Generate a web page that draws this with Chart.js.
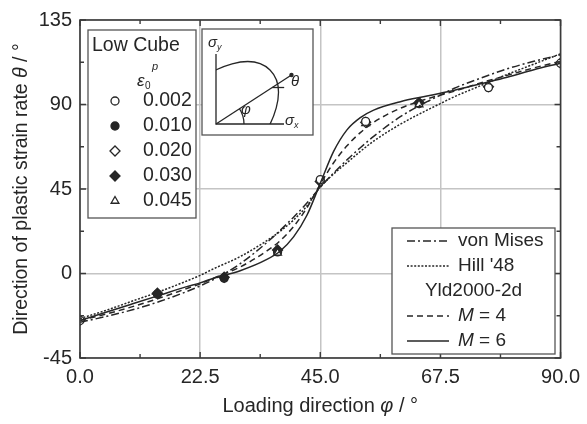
<!DOCTYPE html>
<html>
<head>
<meta charset="utf-8">
<script src="https://cdn.jsdelivr.net/npm/chart.js@4.4.1/dist/chart.umd.min.js"></script>
<style>
  html, body { margin: 0; padding: 0; background: #fff; }
  #wrap { width: 587px; height: 424px; }
</style>
</head>
<body>
<div id="wrap"><canvas id="c" width="587" height="424"></canvas></div>
<script>
// Loading direction (deg) where the model curves are sampled
const phi = [0, 5, 10, 15, 20, 22.5, 25, 30, 35, 37.5, 40, 42.5, 45, 47.5, 50, 52.5, 55, 60, 65, 67.5, 70, 75, 80, 85, 90];

// Direction of plastic strain rate (deg) predicted by each yield criterion
const vonMises = [-26, -22.8, -19.2, -14.8, -9.6, -6.6, -3.2, 5.2, 16.5, 23, 30, 37.5, 46, 53.5, 60.5, 67, 73, 83.5, 91.5, 95, 98.5, 104, 109, 113, 116.5];
const hill48   = [-24, -19.5, -14.5, -9.5, -4, -1, 2.5, 9, 17.5, 22.5, 28.5, 36, 46, 53, 59, 65, 70.5, 79.5, 87, 90.5, 94, 100, 106, 111.5, 117];
const yldM4    = [-25, -21.5, -17.5, -13, -8, -5.5, -2.5, 3.5, 12, 17.5, 25, 35, 47.5, 59, 68, 75, 80.5, 88, 93, 95, 97, 101.5, 105.5, 109.5, 113];
const yldM6    = [-25, -20.5, -16, -11.5, -7, -5, -2.5, 1.5, 7.5, 12, 19.5, 31, 48, 65, 76.5, 83, 87, 91.5, 94.5, 96, 97.5, 101, 104.5, 108.5, 112];

// Measured directions, Low Cube sample, per plastic work level
const strainLevels = ['0.002', '0.010', '0.020', '0.030', '0.045'];
const phi002 = [0, 45, 53.5, 76.5, 90];
const th002  = [-25, 50, 81, 99, 112];
const phi010 = [14.5, 27, 37, 63.5];
const th010  = [-11, -2.5, 11.5, 90.5];
const phi020 = [0, 45, 53.5, 76.5, 90];
const th020  = [-25, 49, 80.5, 99.5, 112];
const phi030 = [14.5, 27, 37, 63.5];
const th030  = [-10.5, -2, 12.5, 91];
const phi045 = [37, 53.5, 63.5];
const th045  = [11, 80, 90];

// Axis ticks
const xTicks = [0, 22.5, 45, 67.5, 90];
const yTicks = [-45, 0, 45, 90, 135];

const FONT = '"Liberation Sans", Arial, sans-serif';
const INK = '#262626';

const pts = (xs, ys) => xs.map((x, i) => ({ x, y: ys[i] }));

const lineDs = (label, ys, dash, w) => ({
  type: 'line', label, data: pts(phi, ys),
  borderColor: INK, borderWidth: w, borderDash: dash,
  pointRadius: 0, fill: false, cubicInterpolationMode: 'monotone'
});

const markerDs = (label, xs, ys, style, filled, r) => ({
  type: 'scatter', label, data: pts(xs, ys),
  pointStyle: style, pointRadius: r, borderWidth: 1.3,
  borderColor: INK, backgroundColor: filled ? INK : '#fff', showLine: false
});

const markerStyles = [
  ['circle', false, 4], ['circle', true, 4], ['rectRot', false, 5],
  ['rectRot', true, 5], ['triangle', false, 4.5]
];

const DASHDOT = [8, 3, 2, 3], DOTTED = [2, 1.6], DASHED = [6, 4];

const datasets = [
  lineDs('von Mises', vonMises, DASHDOT, 1.5),
  lineDs("Hill '48", hill48, DOTTED, 1.5),
  lineDs('M = 4', yldM4, DASHED, 1.5),
  lineDs('M = 6', yldM6, [], 1.5),
  markerDs(strainLevels[0], phi002, th002, 'circle', false, 4),
  markerDs(strainLevels[2], phi020, th020, 'rectRot', false, 5),
  markerDs(strainLevels[4], phi045, th045, 'triangle', false, 4.5),
  markerDs(strainLevels[1], phi010, th010, 'circle', true, 4),
  markerDs(strainLevels[3], phi030, th030, 'rectRot', true, 5)
];

function drawMarker(ctx, style, filled, r, x, y) {
  ctx.save();
  ctx.lineWidth = 1.3;
  ctx.strokeStyle = INK;
  ctx.fillStyle = filled ? INK : '#fff';
  Chart.helpers.drawPoint(ctx, { pointStyle: style, radius: r, rotation: 0, borderWidth: 1.3 }, x, y);
  ctx.restore();
}

function sigma(ctx, x, y, sub) {
  ctx.font = 'italic 15px ' + FONT;
  ctx.fillText('σ', x, y);
  const w = ctx.measureText('σ').width;
  ctx.font = 'italic 9px ' + FONT;
  ctx.fillText(sub, x + w, y + 4);
}

// Writes a run of [text, italic] pieces centred on (cx, cy)
function mixedText(ctx, parts, cx, cy, size) {
  const fontOf = it => (it ? 'italic ' : '') + size + 'px ' + FONT;
  let total = 0;
  parts.forEach(([t, it]) => { ctx.font = fontOf(it); total += ctx.measureText(t).width; });
  let x = cx - total / 2;
  ctx.textAlign = 'left';
  parts.forEach(([t, it]) => {
    ctx.font = fontOf(it);
    ctx.fillText(t, x, cy);
    x += ctx.measureText(t).width;
  });
}

const decor = {
  id: 'decor',
  afterDraw(chart) {
    const { ctx, chartArea: a, scales: { x, y } } = chart;
    ctx.save();

    // frame
    ctx.strokeStyle = '#3a3a3a';
    ctx.lineWidth = 1.6;
    ctx.strokeRect(a.left, a.top, a.right - a.left, a.bottom - a.top);

    // inward tick marks on all four sides
    ctx.lineWidth = 1.4;
    ctx.beginPath();
    for (let v = 0; v <= 90; v += 11.25) {
      const px = x.getPixelForValue(v);
      const len = (v % 22.5 === 0) ? 6 : 4;
      ctx.moveTo(px, a.bottom); ctx.lineTo(px, a.bottom - len);
      ctx.moveTo(px, a.top); ctx.lineTo(px, a.top + len);
    }
    for (let v = -45; v <= 135; v += 22.5) {
      const py = y.getPixelForValue(v);
      const len = (v % 45 === 0) ? 6 : 4;
      ctx.moveTo(a.left, py); ctx.lineTo(a.left + len, py);
      ctx.moveTo(a.right, py); ctx.lineTo(a.right - len, py);
    }
    ctx.stroke();

    ctx.fillStyle = INK;
    ctx.textBaseline = 'middle';

    // axis titles
    mixedText(ctx, [['Loading direction ', false], ['φ', true], [' / °', false]],
              (a.left + a.right) / 2, 406, 20);
    ctx.save();
    ctx.translate(22, (a.top + a.bottom) / 2);
    ctx.rotate(-Math.PI / 2);
    mixedText(ctx, [['Direction of plastic strain rate ', false], ['θ', true], [' / °', false]],
              0, 0, 19.5);
    ctx.restore();

    // ---- strain level key (upper left)
    const k1 = { x: a.left + 8, y: a.top + 10, w: 108, h: 188 };
    ctx.fillStyle = '#fff';
    ctx.fillRect(k1.x, k1.y, k1.w, k1.h);
    ctx.strokeStyle = '#555';
    ctx.lineWidth = 1.3;
    ctx.strokeRect(k1.x, k1.y, k1.w, k1.h);
    ctx.fillStyle = INK;
    ctx.textAlign = 'left';
    ctx.font = '19.5px ' + FONT;
    ctx.fillText('Low Cube', k1.x + 4, k1.y + 16);
    ctx.font = 'italic 17px ' + FONT;
    ctx.fillText('ε', k1.x + 49, k1.y + 51);
    ctx.font = '10px ' + FONT;
    ctx.fillText('0', k1.x + 57, k1.y + 56);
    ctx.font = 'italic 11px ' + FONT;
    ctx.fillText('p', k1.x + 64, k1.y + 37);
    ctx.font = '19.5px ' + FONT;
    strainLevels.forEach((lab, i) => {
      const ry = k1.y + 71 + i * 25;
      const [st, fi, r] = markerStyles[i];
      drawMarker(ctx, st, fi, r, k1.x + 27, ry);
      ctx.fillStyle = INK;
      ctx.fillText(lab, k1.x + 55, ry);
    });

    // ---- yield criterion key (lower right)
    const k2 = { x: a.left + 312, y: a.top + 208, w: 163, h: 126 };
    ctx.fillStyle = '#fff';
    ctx.fillRect(k2.x, k2.y, k2.w, k2.h);
    ctx.strokeStyle = '#555';
    ctx.strokeRect(k2.x, k2.y, k2.w, k2.h);
    const rows = [
      { t: 'von Mises', d: DASHDOT },
      { t: "Hill '48", d: DOTTED },
      { t: 'Yld2000-2d', d: null },
      { t: '= 4', d: DASHED, m: true },
      { t: '= 6', d: [], m: true }
    ];
    rows.forEach((r, i) => {
      const ry = k2.y + 13 + i * 25;
      ctx.fillStyle = INK;
      if (r.d === null) {
        ctx.font = '19px ' + FONT;
        ctx.textAlign = 'center';
        ctx.fillText(r.t, k2.x + k2.w / 2, ry);
        ctx.textAlign = 'left';
        return;
      }
      ctx.save();
      ctx.strokeStyle = INK;
      ctx.lineWidth = 1.5;
      ctx.setLineDash(r.d);
      ctx.beginPath();
      ctx.moveTo(k2.x + 15, ry); ctx.lineTo(k2.x + 57, ry);
      ctx.stroke();
      ctx.restore();
      let tx = k2.x + 66;
      if (r.m) {
        ctx.font = 'italic 19px ' + FONT;
        ctx.fillText('M', tx, ry);
        tx += ctx.measureText('M ').width;
      }
      ctx.font = '19px ' + FONT;
      ctx.fillText(r.t, tx, ry);
    });

    // ---- schematic of stress space (inset)
    const bx = a.left + 122, by = a.top + 9;
    ctx.fillStyle = '#fff';
    ctx.fillRect(bx, by, 111, 106);
    ctx.strokeStyle = '#555';
    ctx.lineWidth = 1.3;
    ctx.strokeRect(bx, by, 111, 106);
    const ox = bx + 14, oy = by + 95, R = 54;
    ctx.strokeStyle = INK;
    ctx.lineWidth = 1.3;
    ctx.beginPath();
    ctx.moveTo(ox, by + 25); ctx.lineTo(ox, oy); ctx.lineTo(bx + 82, oy);
    ctx.stroke();
    // yield locus, first quadrant
    ctx.save();
    ctx.beginPath();
    ctx.rect(ox, oy - 80, 80, 80);
    ctx.clip();
    ctx.beginPath();
    ctx.ellipse(ox, oy, R * Math.SQRT2, R * Math.sqrt(2 / 3), -Math.PI / 4, 0, 2 * Math.PI);
    ctx.stroke();
    ctx.restore();
    // loading path and normal
    const ang = 33 * Math.PI / 180;
    const ex = ox + 90 * Math.cos(ang), ey = oy - 90 * Math.sin(ang);
    ctx.beginPath();
    ctx.moveTo(ox, oy); ctx.lineTo(ex, ey);
    ctx.stroke();
    ctx.fillStyle = INK;
    ctx.beginPath(); ctx.arc(ex, ey, 2.2, 0, 2 * Math.PI); ctx.fill();
    const ix = ox + 67 * Math.cos(ang), iy = oy - 67 * Math.sin(ang);
    ctx.beginPath(); ctx.moveTo(ix, iy); ctx.lineTo(ix + 12, iy); ctx.stroke();
    ctx.beginPath();
    ctx.arc(ox, oy, 28, -ang, 0);
    ctx.stroke();
    ctx.font = 'italic 15px ' + FONT;
    ctx.textAlign = 'left';
    ctx.fillText('θ', bx + 89, by + 53);
    ctx.fillText('φ', bx + 39, by + 81);
    sigma(ctx, bx + 6, by + 14, 'y');
    sigma(ctx, bx + 83, by + 92, 'x');

    ctx.restore();
  }
};

new Chart(document.getElementById('c'), {
  data: { datasets },
  options: {
    responsive: false,
    animation: false,
    devicePixelRatio: 1,
    layout: { padding: { top: 17.7, right: 26, bottom: 0, left: 0 } },
    plugins: { legend: { display: false }, tooltip: { enabled: false } },
    scales: {
      x: {
        type: 'linear', min: 0, max: 90,
        afterBuildTicks: s => { s.ticks = xTicks.map(v => ({ value: v })); },
        afterFit: s => { s.height = 66; },
        ticks: { callback: v => Number(v).toFixed(1), color: INK, padding: 7, maxRotation: 0,
                 font: { family: FONT, size: 20 } },
        grid: { color: '#c4c4c4', lineWidth: 1.5, drawTicks: false },
        border: { display: false },
        title: { display: false }
      },
      y: {
        type: 'linear', min: -45, max: 135,
        afterBuildTicks: s => { s.ticks = yTicks.map(v => ({ value: v })); },
        afterFit: s => { s.width = 80; },
        ticks: { color: INK, padding: 8, font: { family: FONT, size: 20 } },
        grid: { color: '#c4c4c4', lineWidth: 1.5, drawTicks: false },
        border: { display: false },
        title: { display: false }
      }
    }
  },
  plugins: [decor]
});
</script>
</body>
</html>
